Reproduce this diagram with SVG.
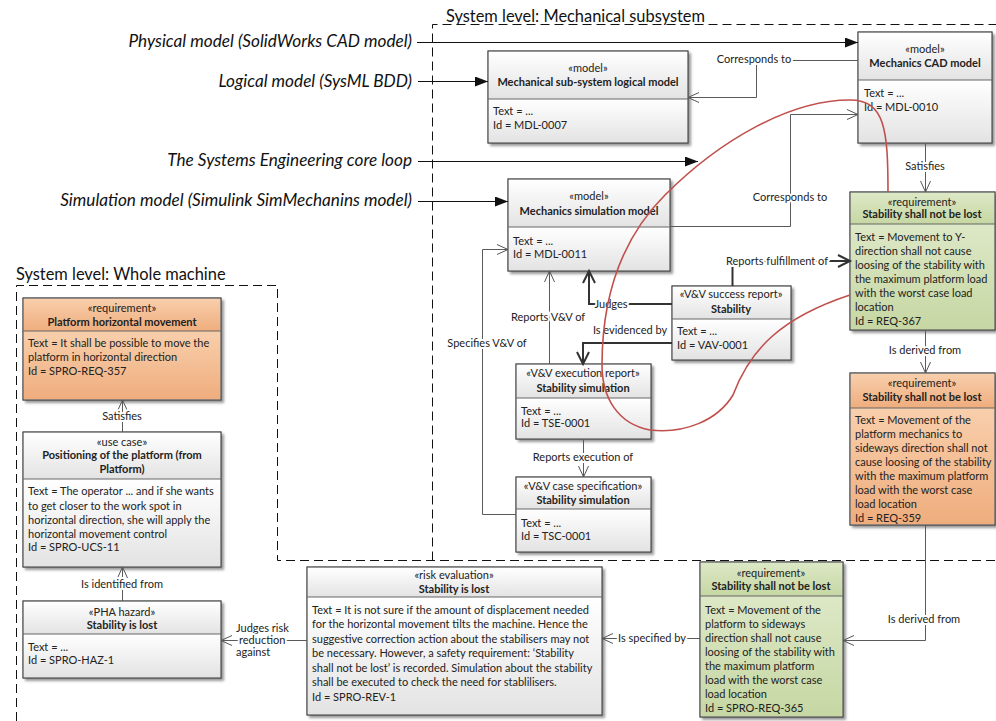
<svg xmlns="http://www.w3.org/2000/svg" width="996" height="721" viewBox="0 0 996 721">
  <style>
    text { font-family: Lato, "Liberation Sans", sans-serif; fill: #222; }
    .frame { fill: none; stroke: #111; stroke-width: 1; stroke-dasharray: 9 5; }
    .frame-title { font-size: 16.4px; fill: #111; }
    .side { font-size: 17.2px; font-style: italic; fill: #111; text-anchor: end; }
    .box { stroke: #555; stroke-width: 1; }
    .div { stroke: #666; stroke-width: 1; }
    .st { font-size: 11px; text-anchor: middle; }
    .tt { font-size: 11px; font-weight: bold; text-anchor: middle; }
    .bd { font-size: 11px; }
    .ln { fill: none; stroke: #5a5a5a; stroke-width: 1; }
    .ln-b { fill: none; stroke: #333; stroke-width: 2; }
    .flow { fill: none; stroke: #111; stroke-width: 1.2; }
    .lbl { font-size: 11px; text-anchor: middle; stroke: #fff; stroke-width: 4; paint-order: stroke; stroke-linejoin: round; }
    .lbl-l { font-size: 11px; stroke: #fff; stroke-width: 4; paint-order: stroke; stroke-linejoin: round; }
  </style>
  <defs>
    <linearGradient id="gWhite" x1="0" y1="0" x2="0" y2="1">
      <stop offset="0" stop-color="#ffffff"/>
      <stop offset="1" stop-color="#e3e3e3"/>
    </linearGradient>
    <linearGradient id="gOrange" x1="0" y1="0" x2="0" y2="1">
      <stop offset="0" stop-color="#f8cfac"/>
      <stop offset="1" stop-color="#efad7d"/>
    </linearGradient>
    <linearGradient id="gGreen" x1="0" y1="0" x2="0" y2="1">
      <stop offset="0" stop-color="#dde8c6"/>
      <stop offset="1" stop-color="#c6d7a3"/>
    </linearGradient>
    <filter id="shadow" x="-5%" y="-5%" width="115%" height="115%">
      <feDropShadow dx="2.5" dy="2.5" stdDeviation="0.8" flood-color="#555" flood-opacity="0.6"/>
    </filter>
    <marker id="aFill" markerUnits="userSpaceOnUse" markerWidth="14" markerHeight="10" refX="13" refY="5" orient="auto">
      <path d="M0,0 L13,5 L0,10 z" fill="#111"/>
    </marker>
    <marker id="aOpen" markerUnits="userSpaceOnUse" markerWidth="14" markerHeight="14" refX="11" refY="7" orient="auto" overflow="visible">
      <path d="M0,2 L11,7 L0,12" fill="none" stroke="#555" stroke-width="1"/>
    </marker>
    <marker id="aOpenB" markerUnits="userSpaceOnUse" markerWidth="16" markerHeight="16" refX="12" refY="8" orient="auto" overflow="visible">
      <path d="M0,2 L12,8 L0,14" fill="none" stroke="#333" stroke-width="2"/>
    </marker>
  </defs>

  <rect width="996" height="721" fill="#fff"/>

  <!-- system boundaries -->
  <g id="frame-mechanical">
    <path class="frame" d="M432.5,560.5 V24.5 H996"/>
    <text class="frame-title" x="446" y="22">System level: Mechanical subsystem</text>
  </g>
  <g id="frame-whole-machine">
    <path class="frame" d="M16.5,721 V285.5 H277.5 V560.5 H996"/>
    <text class="frame-title" x="16" y="280">System level: Whole machine</text>
  </g>

  <!-- model-type captions -->
  <g id="captions">
    <text class="side" x="412" y="47">Physical model (SolidWorks CAD model)</text>
    <text class="side" x="412" y="87">Logical model (SysML BDD)</text>
    <text class="side" x="412" y="166">The Systems Engineering core loop</text>
    <text class="side" x="412" y="206">Simulation model (Simulink SimMechanins model)</text>
  </g>

  <!-- nodes -->
  <g id="logical-model">
    <rect class="box" x="488" y="51" width="200" height="92" fill="#fff" filter="url(#shadow)"/>
    <rect x="488.5" y="51.5" width="199" height="47.5" fill="url(#gWhite)"/>
    <rect x="488.5" y="99" width="199" height="43.5" fill="url(#gWhite)"/>
    <rect class="box" x="488" y="51" width="200" height="92" fill="none"/>
    <line class="div" x1="488" y1="99" x2="688" y2="99"/>
    <text class="st" x="588" y="72">«model»</text>
    <text class="tt" x="588" y="86">Mechanical sub-system logical model</text>
    <text class="bd" x="493" y="115">Text = ...</text>
    <text class="bd" x="493" y="129">Id = MDL-0007</text>
  </g>

  <g id="cad-model">
    <rect class="box" x="858" y="32" width="134" height="111" fill="#fff" filter="url(#shadow)"/>
    <rect x="858.5" y="32.5" width="133" height="47.5" fill="url(#gWhite)"/>
    <rect x="858.5" y="80" width="133" height="62.5" fill="url(#gWhite)"/>
    <rect class="box" x="858" y="32" width="134" height="111" fill="none"/>
    <line class="div" x1="858" y1="80" x2="992" y2="80"/>
    <text class="st" x="925" y="53">«model»</text>
    <text class="tt" x="925" y="67">Mechanics CAD model</text>
    <text class="bd" x="864" y="97">Text = ...</text>
    <text class="bd" x="864" y="111">Id = MDL-0010</text>
  </g>

  <g id="simulation-model">
    <rect class="box" x="508" y="179" width="162" height="92" fill="#fff" filter="url(#shadow)"/>
    <rect x="508.5" y="179.5" width="161" height="47.5" fill="url(#gWhite)"/>
    <rect x="508.5" y="227" width="161" height="43.5" fill="url(#gWhite)"/>
    <rect class="box" x="508" y="179" width="162" height="92" fill="none"/>
    <line class="div" x1="508" y1="227" x2="670" y2="227"/>
    <text class="st" x="589" y="200">«model»</text>
    <text class="tt" x="589" y="215">Mechanics simulation model</text>
    <text class="bd" x="513" y="245">Text = ...</text>
    <text class="bd" x="513" y="258">Id = MDL-0011</text>
  </g>

  <g id="req-367">
    <rect class="box" x="850" y="192" width="145" height="138" fill="#fff" filter="url(#shadow)"/>
    <rect x="850.5" y="192.5" width="144" height="31.5" fill="url(#gGreen)"/>
    <rect x="850.5" y="224" width="144" height="105.5" fill="url(#gGreen)"/>
    <rect class="box" x="850" y="192" width="145" height="138" fill="none"/>
    <line class="div" x1="850" y1="224" x2="995" y2="224"/>
    <text class="st" x="922" y="206">«requirement»</text>
    <text class="tt" x="922" y="218">Stability shall not be lost</text>
    <text class="bd" x="855" y="241">Text = Movement to Y-</text>
    <text class="bd" x="855" y="255">direction shall not cause</text>
    <text class="bd" x="855" y="269">loosing of the stability with</text>
    <text class="bd" x="855" y="283">the maximum platform load</text>
    <text class="bd" x="855" y="297">with the worst case load</text>
    <text class="bd" x="855" y="311">location</text>
    <text class="bd" x="855" y="325">Id = REQ-367</text>
  </g>

  <g id="req-359">
    <rect class="box" x="850" y="373" width="145" height="152" fill="#fff" filter="url(#shadow)"/>
    <rect x="850.5" y="373.5" width="144" height="34.5" fill="url(#gOrange)"/>
    <rect x="850.5" y="408" width="144" height="116.5" fill="url(#gOrange)"/>
    <rect class="box" x="850" y="373" width="145" height="152" fill="none"/>
    <line class="div" x1="850" y1="408" x2="995" y2="408"/>
    <text class="st" x="922" y="387">«requirement»</text>
    <text class="tt" x="922" y="401">Stability shall not be lost</text>
    <text class="bd" x="855" y="424">Text = Movement of the</text>
    <text class="bd" x="855" y="438">platform mechanics to</text>
    <text class="bd" x="855" y="452">sideways direction shall not</text>
    <text class="bd" x="855" y="466">cause loosing of the stability</text>
    <text class="bd" x="855" y="480">with the maximum platform</text>
    <text class="bd" x="855" y="494">load with the worst case</text>
    <text class="bd" x="855" y="508">load location</text>
    <text class="bd" x="855" y="522">Id = REQ-359</text>
  </g>

  <g id="spro-req-365">
    <rect class="box" x="700" y="562" width="143" height="155" fill="#fff" filter="url(#shadow)"/>
    <rect x="700.5" y="562.5" width="142" height="33.5" fill="url(#gGreen)"/>
    <rect x="700.5" y="596" width="142" height="120.5" fill="url(#gGreen)"/>
    <rect class="box" x="700" y="562" width="143" height="155" fill="none"/>
    <line class="div" x1="700" y1="596" x2="843" y2="596"/>
    <text class="st" x="771" y="577">«requirement»</text>
    <text class="tt" x="771" y="590">Stability shall not be lost</text>
    <text class="bd" x="705" y="614">Text = Movement of the</text>
    <text class="bd" x="705" y="628">platform to sideways</text>
    <text class="bd" x="705" y="642">direction shall not cause</text>
    <text class="bd" x="705" y="656">loosing of the stability with</text>
    <text class="bd" x="705" y="670">the maximum platform</text>
    <text class="bd" x="705" y="684">load with the worst case</text>
    <text class="bd" x="705" y="698">load location</text>
    <text class="bd" x="705" y="712">Id = SPRO-REQ-365</text>
  </g>

  <g id="risk-evaluation">
    <rect class="box" x="307" y="567" width="295" height="148" fill="#fff" filter="url(#shadow)"/>
    <rect x="307.5" y="567.5" width="294" height="29.5" fill="url(#gWhite)"/>
    <rect x="307.5" y="597" width="294" height="117.5" fill="url(#gWhite)"/>
    <rect class="box" x="307" y="567" width="295" height="148" fill="none"/>
    <line class="div" x1="307" y1="597" x2="602" y2="597"/>
    <text class="st" x="454" y="579">«risk evaluation»</text>
    <text class="tt" x="454" y="593">Stability is lost</text>
    <text class="bd" x="312" y="614">Text = It is not sure if the amount of displacement needed</text>
    <text class="bd" x="312" y="628">for the horizontal movement tilts the machine. Hence the</text>
    <text class="bd" x="312" y="643">suggestive correction action about the stabilisers may not</text>
    <text class="bd" x="312" y="657">be necessary. However, a safety requirement: ‘Stability</text>
    <text class="bd" x="312" y="672">shall not be lost’ is recorded. Simulation about the stability</text>
    <text class="bd" x="312" y="686">shall be executed to check the need for stablilisers.</text>
    <text class="bd" x="312" y="701">Id = SPRO-REV-1</text>
  </g>

  <g id="pha-hazard">
    <rect class="box" x="23" y="601" width="198" height="77" fill="#fff" filter="url(#shadow)"/>
    <rect x="23.5" y="601.5" width="197" height="32.5" fill="url(#gWhite)"/>
    <rect x="23.5" y="634" width="197" height="43.5" fill="url(#gWhite)"/>
    <rect class="box" x="23" y="601" width="198" height="77" fill="none"/>
    <line class="div" x1="23" y1="634" x2="221" y2="634"/>
    <text class="st" x="122" y="616">«PHA hazard»</text>
    <text class="tt" x="122" y="629">Stability is lost</text>
    <text class="bd" x="28" y="651">Text = ...</text>
    <text class="bd" x="28" y="664">Id = SPRO-HAZ-1</text>
  </g>

  <g id="use-case">
    <rect class="box" x="23" y="432" width="198" height="135" fill="#fff" filter="url(#shadow)"/>
    <rect x="23.5" y="432.5" width="197" height="46.5" fill="url(#gWhite)"/>
    <rect x="23.5" y="479" width="197" height="87.5" fill="url(#gWhite)"/>
    <rect class="box" x="23" y="432" width="198" height="135" fill="none"/>
    <line class="div" x1="23" y1="479" x2="221" y2="479"/>
    <text class="st" x="122" y="446">«use case»</text>
    <text class="tt" x="122" y="459">Positioning of the platform (from</text>
    <text class="tt" x="122" y="473">Platform)</text>
    <text class="bd" x="28" y="495">Text = The operator ... and if she wants</text>
    <text class="bd" x="28" y="510">to get closer to the work spot in</text>
    <text class="bd" x="28" y="524">horizontal direction, she will apply the</text>
    <text class="bd" x="28" y="538">horizontal movement control</text>
    <text class="bd" x="28" y="551">Id = SPRO-UCS-11</text>
  </g>

  <g id="platform-req">
    <rect class="box" x="23" y="298" width="198" height="102" fill="#fff" filter="url(#shadow)"/>
    <rect x="23.5" y="298.5" width="197" height="32.5" fill="url(#gOrange)"/>
    <rect x="23.5" y="331" width="197" height="68.5" fill="url(#gOrange)"/>
    <rect class="box" x="23" y="298" width="198" height="102" fill="none"/>
    <line class="div" x1="23" y1="331" x2="221" y2="331"/>
    <text class="st" x="122" y="312">«requirement»</text>
    <text class="tt" x="122" y="326">Platform horizontal movement</text>
    <text class="bd" x="28" y="347">Text = It shall be possible to move the</text>
    <text class="bd" x="28" y="361">platform in horizontal direction</text>
    <text class="bd" x="28" y="375">Id = SPRO-REQ-357</text>
  </g>

  <g id="vv-success-report">
    <rect class="box" x="672" y="286" width="119" height="74" fill="#fff" filter="url(#shadow)"/>
    <rect x="672.5" y="286.5" width="118" height="32.5" fill="url(#gWhite)"/>
    <rect x="672.5" y="319" width="118" height="40.5" fill="url(#gWhite)"/>
    <rect class="box" x="672" y="286" width="119" height="74" fill="none"/>
    <line class="div" x1="672" y1="319" x2="791" y2="319"/>
    <text class="st" x="731" y="298">«V&amp;V success report»</text>
    <text class="tt" x="731" y="313">Stability</text>
    <text class="bd" x="677" y="335">Text = ...</text>
    <text class="bd" x="677" y="349">Id = VAV-0001</text>
  </g>

  <g id="vv-execution-report">
    <rect class="box" x="516" y="364" width="135" height="75" fill="#fff" filter="url(#shadow)"/>
    <rect x="516.5" y="364.5" width="134" height="33.5" fill="url(#gWhite)"/>
    <rect x="516.5" y="398" width="134" height="40.5" fill="url(#gWhite)"/>
    <rect class="box" x="516" y="364" width="135" height="75" fill="none"/>
    <line class="div" x1="516" y1="398" x2="651" y2="398"/>
    <text class="st" x="583" y="377">«V&amp;V execution report»</text>
    <text class="tt" x="583" y="392">Stability simulation</text>
    <text class="bd" x="521" y="415">Text = ...</text>
    <text class="bd" x="521" y="427">Id = TSE-0001</text>
  </g>

  <g id="vv-case-specification">
    <rect class="box" x="516" y="477" width="135" height="75" fill="#fff" filter="url(#shadow)"/>
    <rect x="516.5" y="477.5" width="134" height="31.5" fill="url(#gWhite)"/>
    <rect x="516.5" y="509" width="134" height="42.5" fill="url(#gWhite)"/>
    <rect class="box" x="516" y="477" width="135" height="75" fill="none"/>
    <line class="div" x1="516" y1="509" x2="651" y2="509"/>
    <text class="st" x="583" y="490">«V&amp;V case specification»</text>
    <text class="tt" x="583" y="504">Stability simulation</text>
    <text class="bd" x="521" y="527">Text = ...</text>
    <text class="bd" x="521" y="540">Id = TSC-0001</text>
  </g>

  <!-- connectors -->
  <g id="connectors">
    <path class="flow" d="M417,42.5 H858" marker-end="url(#aFill)"/>
    <path class="flow" d="M418,81.5 H488" marker-end="url(#aFill)"/>
    <path class="flow" d="M418,161.5 H698" marker-end="url(#aFill)"/>
    <path class="flow" d="M418,201.5 H508" marker-end="url(#aFill)"/>

    <path class="ln" d="M858,60.5 H756.5 V97.5 H688" marker-end="url(#aOpen)"/>
    <text class="lbl" x="754" y="63">Corresponds to</text>

    <path class="ln" d="M670,226.5 H790.5 V114.5 H858" marker-end="url(#aOpen)"/>
    <text class="lbl" x="790" y="201">Corresponds to</text>

    <path class="ln" d="M925.5,143 V192" marker-end="url(#aOpen)"/>
    <text class="lbl" x="925" y="170">Satisfies</text>

    <path class="ln" d="M925.5,330 V373" marker-end="url(#aOpen)"/>
    <text class="lbl" x="925" y="354">Is derived from</text>

    <path class="ln" d="M925.5,525 V640.5 H843" marker-end="url(#aOpen)"/>
    <text class="lbl" x="924" y="623">Is derived from</text>

    <path class="ln" d="M700,638.5 H602" marker-end="url(#aOpen)"/>
    <text class="lbl" x="652" y="642">Is specified by</text>

    <path class="ln" d="M307,640.5 H221" marker-end="url(#aOpen)"/>
    <text class="lbl-l" x="236" y="632">Judges risk</text>
    <text class="lbl-l" x="239" y="644">reduction</text>
    <text class="lbl-l" x="236" y="656">against</text>

    <path class="ln" d="M122.5,601 V567" marker-end="url(#aOpen)"/>
    <text class="lbl" x="122" y="588">Is identified from</text>

    <path class="ln" d="M122.5,432 V400" marker-end="url(#aOpen)"/>
    <text class="lbl" x="122" y="420">Satisfies</text>

    <path class="ln-b" d="M732.5,286 V261 H850" marker-end="url(#aOpenB)"/>
    <text class="lbl" x="777" y="265">Reports fulfillment of</text>

    <path class="ln-b" d="M672,304 H589 V271" marker-end="url(#aOpenB)"/>
    <text class="lbl" x="611" y="308">Judges</text>

    <path class="ln-b" d="M672,343 H583 V364" marker-end="url(#aOpenB)"/>
    <text class="lbl" x="630" y="334">Is evidenced by</text>

    <path class="ln" d="M549.5,364 V271" marker-end="url(#aOpen)"/>
    <text class="lbl" x="548" y="321">Reports V&amp;V of</text>

    <path class="ln" d="M583.5,439 V477" marker-end="url(#aOpen)"/>
    <text class="lbl" x="583" y="461">Reports execution of</text>

    <path class="ln" d="M516,514.5 H482.5 V249.5 H508" marker-end="url(#aOpen)"/>
    <text class="lbl" x="487" y="347">Specifies V&amp;V of</text>
  </g>

  <!-- hand-drawn loop highlighting the core chain -->
  <g id="highlight-loop">
    <path d="M850,295 C780,318 750,350 733,395 C718,420 685,434 650,430 C618,424 602,398 602,365 C602,300 620,240 665,195 C720,140 790,100 850,100 C885,100 888,130 888,192" fill="none" stroke="#c0504d" stroke-width="1.6"/>
  </g>
</svg>
